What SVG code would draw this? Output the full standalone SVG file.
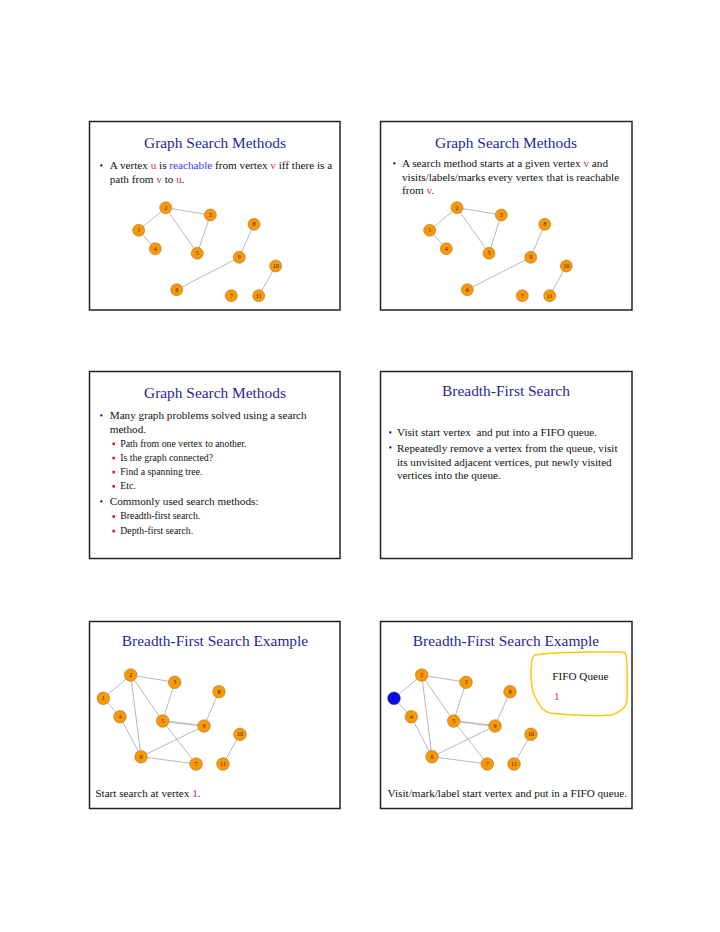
<svg xmlns="http://www.w3.org/2000/svg" width="720" height="932" viewBox="0 0 720 932">
<style>
text{font-family:"Liberation Serif","Times New Roman",serif;}
.frame{fill:#fff;stroke:#222;stroke-width:1.5;}
.title{font-size:15.4px;fill:#1f1fa0;text-anchor:middle;}
.body{font-size:11.2px;fill:#111;}
.sub{font-size:9.8px;fill:#111;}
.bul{font-size:10px;fill:#1a1a8a;}
.sq{fill:#e0183f;}
.red{fill:#e3264f;}
.blue{fill:#3535ff;}
.edge{stroke:#9a9a9a;stroke-width:0.7;fill:none;}
.thick{stroke:#c4c4c4;stroke-width:2;fill:none;}
.node circle{fill:#fb9800;stroke:#9a7a4a;stroke-width:0.6;}
.node text{font-size:6px;fill:#222;text-anchor:middle;}
.vis circle{fill:#0a0aee;stroke:#333;stroke-width:0.6;}
.note{fill:none;stroke:#fbc70a;stroke-width:1.5;stroke-linecap:round;stroke-linejoin:round;}
</style>
<rect width="720" height="932" fill="#fff"/>

<!-- Slide frames -->
<rect class="frame" x="89.5" y="121.5" width="250.5" height="188.5"/>
<rect class="frame" x="380.5" y="121.5" width="251.5" height="188.5"/>
<rect class="frame" x="89.5" y="371.5" width="250.5" height="187"/>
<rect class="frame" x="380.5" y="371.5" width="251.5" height="187"/>
<rect class="frame" x="89.5" y="621.5" width="250.5" height="187"/>
<rect class="frame" x="380.5" y="621.5" width="251.5" height="187"/>

<!-- Slide 1 text -->
<text class="title" x="215" y="148">Graph Search Methods</text>
<text class="bul" x="99.5" y="168.5">•</text>
<text class="body" x="109.7" y="169">A vertex <tspan class="red">u</tspan> is <tspan class="blue">reachable</tspan> from vertex <tspan class="red">v</tspan> iff there is a</text>
<text class="body" x="109.7" y="183">path from <tspan class="red">v</tspan> to <tspan class="red">u</tspan>.</text>

<!-- Slide 2 text -->
<text class="title" x="506" y="148">Graph Search Methods</text>
<text class="bul" x="392.5" y="166.5">•</text>
<text class="body" x="402" y="167">A search method starts at a given vertex <tspan class="red">v</tspan> and</text>
<text class="body" x="402" y="180.7">visits/labels/marks every vertex that is reachable</text>
<text class="body" x="402" y="194.4">from <tspan class="red">v</tspan>.</text>

<!-- Slide 3 text -->
<text class="title" x="215" y="398.3">Graph Search Methods</text>
<text class="bul" x="99.5" y="418.5">•</text>
<text class="body" x="109.7" y="419">Many graph problems solved using a search</text>
<text class="body" x="109.7" y="433.2">method.</text>
<rect class="sq" x="112.4" y="442.5" width="2.6" height="2.6"/>
<text class="sub" x="120.3" y="446.7">Path from one vertex to another.</text>
<rect class="sq" x="112.4" y="456.8" width="2.6" height="2.6"/>
<text class="sub" x="120.3" y="461">Is the graph connected?</text>
<rect class="sq" x="112.4" y="470.8" width="2.6" height="2.6"/>
<text class="sub" x="120.3" y="475">Find a spanning tree.</text>
<rect class="sq" x="112.4" y="485" width="2.6" height="2.6"/>
<text class="sub" x="120.3" y="489.2">Etc.</text>
<text class="bul" x="99.5" y="504.5">•</text>
<text class="body" x="109.7" y="505">Commonly used search methods:</text>
<rect class="sq" x="112.4" y="515.2" width="2.6" height="2.6"/>
<text class="sub" x="120.3" y="519.4">Breadth-first search.</text>
<rect class="sq" x="112.4" y="529.8" width="2.6" height="2.6"/>
<text class="sub" x="120.3" y="534">Depth-first search.</text>

<!-- Slide 4 text -->
<text class="title" x="506" y="396.3">Breadth-First Search</text>
<text class="bul" x="388.5" y="435.5">•</text>
<text class="body" x="397" y="436" xml:space="preserve">Visit start vertex  and put into a FIFO queue.</text>
<text class="bul" x="388.5" y="451.2">•</text>
<text class="body" x="397" y="451.7">Repeatedly remove a vertex from the queue, visit</text>
<text class="body" x="397" y="465.6">its unvisited adjacent vertices, put newly visited</text>
<text class="body" x="397" y="479.4">vertices into the queue.</text>

<!-- Slide 5 text -->
<text class="title" x="215" y="645.7">Breadth-First Search Example</text>
<text class="body" x="95.3" y="796.7">Start search at vertex <tspan class="red">1</tspan>.</text>

<!-- Slide 6 text -->
<text class="title" x="506" y="645.7">Breadth-First Search Example</text>
<text class="body" x="507.3" y="796.7" text-anchor="middle">Visit/mark/label start vertex and put in a FIFO queue.</text>
<path class="note" d="M534.7,655 C548,652.5 575,652 600,652 C612,652 620,651.5 625,652.8 C628,657 627.5,680 627,700 C626.5,707 621,712 611,715 C595,716.5 570,715 551,713.3 C545,711.5 541,708 539.7,705 C535,698 532.5,692 532,686.7 C531,678 530.8,670 531.3,666.7 C531.5,661 532.5,657 534.7,655"/>
<text class="body" x="552.3" y="680">FIFO Queue</text>
<text class="body red" x="554" y="700">1</text>

<!-- Connectors -->
<g id="connectors">
  <!-- slide 1 -->
  <line class="edge" x1="138.7" y1="230.3" x2="165.7" y2="207.7"/>
  <line class="edge" x1="138.7" y1="230.3" x2="155.3" y2="248.7"/>
  <line class="edge" x1="165.7" y1="207.7" x2="210.3" y2="215"/>
  <line class="edge" x1="165.7" y1="207.7" x2="197.3" y2="253.3"/>
  <line class="edge" x1="210.3" y1="215" x2="197.3" y2="253.3"/>
  <line class="edge" x1="254" y1="224.3" x2="239.3" y2="257.3"/>
  <line class="edge" x1="239.3" y1="257.3" x2="176.7" y2="289.7"/>
  <line class="edge" x1="275.7" y1="266" x2="258.7" y2="295.7"/>
  <!-- slide 2 -->
  <line class="edge" x1="429.7" y1="230.3" x2="457" y2="207.7"/>
  <line class="edge" x1="429.7" y1="230.3" x2="446.3" y2="248.7"/>
  <line class="edge" x1="457" y1="207.7" x2="501.3" y2="215"/>
  <line class="edge" x1="457" y1="207.7" x2="489" y2="253.3"/>
  <line class="edge" x1="501.3" y1="215" x2="489" y2="253.3"/>
  <line class="edge" x1="544.7" y1="224.3" x2="530.7" y2="257.3"/>
  <line class="edge" x1="530.7" y1="257.3" x2="467.3" y2="289.7"/>
  <line class="edge" x1="566.3" y1="266" x2="549.7" y2="295.7"/>
  <!-- slide 5 -->
  <line class="edge" x1="103.3" y1="698.3" x2="130.7" y2="675"/>
  <line class="edge" x1="103.3" y1="698.3" x2="120" y2="716.7"/>
  <line class="edge" x1="130.7" y1="675" x2="174.7" y2="682.3"/>
  <line class="edge" x1="130.7" y1="675" x2="162.7" y2="721"/>
  <line class="edge" x1="130.7" y1="675" x2="141" y2="756.7"/>
  <line class="edge" x1="174.7" y1="682.3" x2="162.7" y2="721"/>
  <line class="edge" x1="120" y1="716.7" x2="141" y2="756.7"/>
  <line class="thick" x1="162.7" y1="721" x2="204" y2="726"/>
  <line class="edge" x1="162.7" y1="721" x2="196" y2="764"/>
  <line class="edge" x1="141" y1="756.7" x2="204" y2="726"/>
  <line class="edge" x1="141" y1="756.7" x2="196" y2="764"/>
  <line class="edge" x1="219" y1="691.7" x2="204" y2="726"/>
  <line class="edge" x1="240" y1="734.3" x2="223" y2="764"/>
  <!-- slide 6 -->
  <line class="edge" x1="394" y1="698.3" x2="421.7" y2="675"/>
  <line class="edge" x1="394" y1="698.3" x2="411.3" y2="716.7"/>
  <line class="edge" x1="421.7" y1="675" x2="466" y2="682.3"/>
  <line class="edge" x1="421.7" y1="675" x2="453.7" y2="721"/>
  <line class="edge" x1="421.7" y1="675" x2="432" y2="756.7"/>
  <line class="edge" x1="466" y1="682.3" x2="453.7" y2="721"/>
  <line class="edge" x1="411.3" y1="716.7" x2="432" y2="756.7"/>
  <line class="thick" x1="453.7" y1="721" x2="495" y2="726"/>
  <line class="edge" x1="453.7" y1="721" x2="487.3" y2="764"/>
  <line class="edge" x1="432" y1="756.7" x2="495" y2="726"/>
  <line class="edge" x1="432" y1="756.7" x2="487.3" y2="764"/>
  <line class="edge" x1="510" y1="691.7" x2="495" y2="726"/>
  <line class="edge" x1="531" y1="734.3" x2="514" y2="764"/>
</g>

<!-- Slide 1 nodes -->
<g id="s1-n1" class="node"><circle cx="138.7" cy="230.3" r="6"/><text x="138.7" y="232.3">1</text></g>
<g id="s1-n2" class="node"><circle cx="165.7" cy="207.7" r="6"/><text x="165.7" y="209.7">2</text></g>
<g id="s1-n3" class="node"><circle cx="210.3" cy="215" r="6"/><text x="210.3" y="217">3</text></g>
<g id="s1-n4" class="node"><circle cx="155.3" cy="248.7" r="6"/><text x="155.3" y="250.7">4</text></g>
<g id="s1-n5" class="node"><circle cx="197.3" cy="253.3" r="6"/><text x="197.3" y="255.3">5</text></g>
<g id="s1-n6" class="node"><circle cx="176.7" cy="289.7" r="6"/><text x="176.7" y="291.7">6</text></g>
<g id="s1-n7" class="node"><circle cx="231.3" cy="295.7" r="6"/><text x="231.3" y="297.7">7</text></g>
<g id="s1-n8" class="node"><circle cx="254" cy="224.3" r="6"/><text x="254" y="226.3">8</text></g>
<g id="s1-n9" class="node"><circle cx="239.3" cy="257.3" r="6"/><text x="239.3" y="259.3">9</text></g>
<g id="s1-n10" class="node"><circle cx="275.7" cy="266" r="6"/><text x="275.7" y="268">10</text></g>
<g id="s1-n11" class="node"><circle cx="258.7" cy="295.7" r="6"/><text x="258.7" y="297.7">11</text></g>

<!-- Slide 2 nodes -->
<g id="s2-n1" class="node"><circle cx="429.7" cy="230.3" r="6"/><text x="429.7" y="232.3">1</text></g>
<g id="s2-n2" class="node"><circle cx="457" cy="207.7" r="6"/><text x="457" y="209.7">2</text></g>
<g id="s2-n3" class="node"><circle cx="501.3" cy="215" r="6"/><text x="501.3" y="217">3</text></g>
<g id="s2-n4" class="node"><circle cx="446.3" cy="248.7" r="6"/><text x="446.3" y="250.7">4</text></g>
<g id="s2-n5" class="node"><circle cx="489" cy="253.3" r="6"/><text x="489" y="255.3">5</text></g>
<g id="s2-n6" class="node"><circle cx="467.3" cy="289.7" r="6"/><text x="467.3" y="291.7">6</text></g>
<g id="s2-n7" class="node"><circle cx="522.3" cy="295.7" r="6"/><text x="522.3" y="297.7">7</text></g>
<g id="s2-n8" class="node"><circle cx="544.7" cy="224.3" r="6"/><text x="544.7" y="226.3">8</text></g>
<g id="s2-n9" class="node"><circle cx="530.7" cy="257.3" r="6"/><text x="530.7" y="259.3">9</text></g>
<g id="s2-n10" class="node"><circle cx="566.3" cy="266" r="6"/><text x="566.3" y="268">10</text></g>
<g id="s2-n11" class="node"><circle cx="549.7" cy="295.7" r="6"/><text x="549.7" y="297.7">11</text></g>

<!-- Slide 5 nodes -->
<g id="s5-n1" class="node"><circle cx="103.3" cy="698.3" r="6.3"/><text x="103.3" y="700.3">1</text></g>
<g id="s5-n2" class="node"><circle cx="130.7" cy="675" r="6.3"/><text x="130.7" y="677">2</text></g>
<g id="s5-n3" class="node"><circle cx="174.7" cy="682.3" r="6.3"/><text x="174.7" y="684.3">3</text></g>
<g id="s5-n4" class="node"><circle cx="120" cy="716.7" r="6.3"/><text x="120" y="718.7">4</text></g>
<g id="s5-n5" class="node"><circle cx="162.7" cy="721" r="6.3"/><text x="162.7" y="723">5</text></g>
<g id="s5-n6" class="node"><circle cx="141" cy="756.7" r="6.3"/><text x="141" y="758.7">6</text></g>
<g id="s5-n7" class="node"><circle cx="196" cy="764" r="6.3"/><text x="196" y="766">7</text></g>
<g id="s5-n8" class="node"><circle cx="219" cy="691.7" r="6.3"/><text x="219" y="693.7">8</text></g>
<g id="s5-n9" class="node"><circle cx="204" cy="726" r="6.3"/><text x="204" y="728">9</text></g>
<g id="s5-n10" class="node"><circle cx="240" cy="734.3" r="6.3"/><text x="240" y="736.3">10</text></g>
<g id="s5-n11" class="node"><circle cx="223" cy="764" r="6.3"/><text x="223" y="766">11</text></g>

<!-- Slide 6 nodes -->
<g id="s6-n1" class="node vis"><circle cx="394" cy="698.3" r="6.3"/><text x="394" y="700.3">1</text></g>
<g id="s6-n2" class="node"><circle cx="421.7" cy="675" r="6.3"/><text x="421.7" y="677">2</text></g>
<g id="s6-n3" class="node"><circle cx="466" cy="682.3" r="6.3"/><text x="466" y="684.3">3</text></g>
<g id="s6-n4" class="node"><circle cx="411.3" cy="716.7" r="6.3"/><text x="411.3" y="718.7">4</text></g>
<g id="s6-n5" class="node"><circle cx="453.7" cy="721" r="6.3"/><text x="453.7" y="723">5</text></g>
<g id="s6-n6" class="node"><circle cx="432" cy="756.7" r="6.3"/><text x="432" y="758.7">6</text></g>
<g id="s6-n7" class="node"><circle cx="487.3" cy="764" r="6.3"/><text x="487.3" y="766">7</text></g>
<g id="s6-n8" class="node"><circle cx="510" cy="691.7" r="6.3"/><text x="510" y="693.7">8</text></g>
<g id="s6-n9" class="node"><circle cx="495" cy="726" r="6.3"/><text x="495" y="728">9</text></g>
<g id="s6-n10" class="node"><circle cx="531" cy="734.3" r="6.3"/><text x="531" y="736.3">10</text></g>
<g id="s6-n11" class="node"><circle cx="514" cy="764" r="6.3"/><text x="514" y="766">11</text></g>
</svg>
